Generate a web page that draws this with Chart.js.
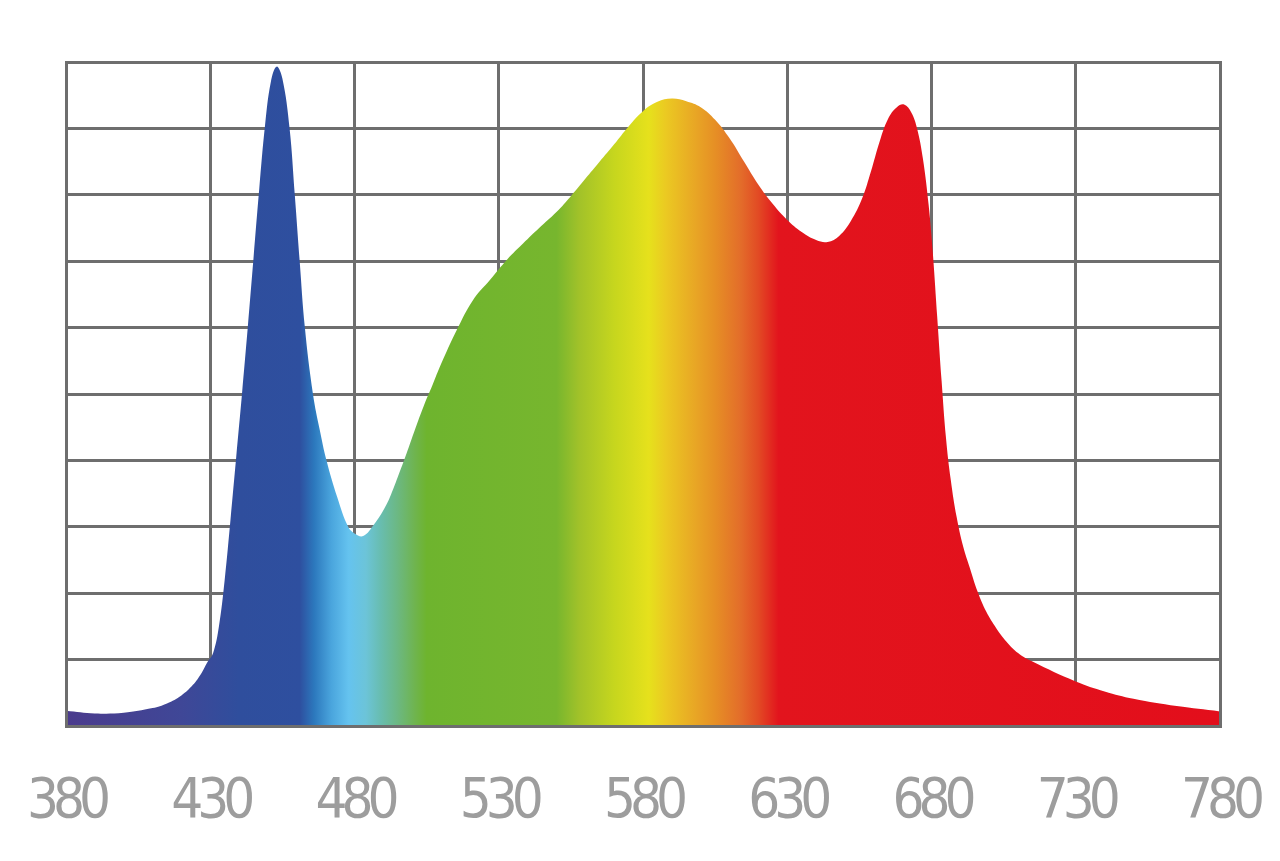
<!DOCTYPE html>
<html>
<head>
<meta charset="utf-8">
<script src="https://cdn.jsdelivr.net/npm/chart.js@4"></script>
<style>
  html, body { margin: 0; padding: 0; background: #ffffff; }
  #wrap { width: 1280px; height: 861px; }
</style>
</head>
<body>
<div id="wrap"><canvas id="spectrum"></canvas></div>
<script>
// wavelength (nm) and relative intensity
const wavelengths = [380, 390, 400, 410, 415, 420, 424, 427, 429, 431, 433, 435, 437, 439, 441, 443, 445, 447, 449, 451, 453, 455, 457.5, 459.3, 461, 462.8, 465.6, 468, 470.3, 474, 477.8, 480, 483, 487, 490, 492.3, 495, 498, 501, 504, 507, 510, 515.4, 521, 527, 533, 538.5, 544, 550, 555, 560, 565, 570, 575, 580, 585, 590, 595, 600, 605, 610, 615, 620, 625, 630, 635, 640, 644, 648, 652, 656, 659, 662, 665, 668, 670.5, 673, 675, 677, 679, 680.5, 682, 683.5, 685, 686.7, 688.7, 691, 693.3, 696, 699, 702.5, 706, 710, 715, 730, 740, 750, 765, 780];
const intensity = [0.23, 0.19, 0.2, 0.27, 0.34, 0.46, 0.62, 0.8, 0.96, 1.1, 1.5, 2.2, 3.1, 4.05, 5.0, 6.0, 7.05, 8.1, 9.05, 9.7, 9.93, 9.75, 9.0, 8.0, 7.0, 6.0, 5.0, 4.45, 4.0, 3.45, 3.0, 2.9, 2.86, 3.05, 3.25, 3.45, 3.75, 4.1, 4.47, 4.82, 5.13, 5.45, 5.96, 6.41, 6.72, 7.03, 7.27, 7.5, 7.74, 7.98, 8.24, 8.5, 8.76, 9.03, 9.26, 9.4, 9.45, 9.41, 9.32, 9.13, 8.85, 8.5, 8.15, 7.86, 7.62, 7.44, 7.32, 7.29, 7.38, 7.6, 7.95, 8.35, 8.8, 9.15, 9.32, 9.36, 9.24, 9.0, 8.55, 7.85, 7.1, 6.15, 5.2, 4.35, 3.7, 3.15, 2.7, 2.38, 2.02, 1.72, 1.47, 1.27, 1.1, 0.97, 0.67, 0.52, 0.41, 0.3, 0.22];
const xTicks = [380, 430, 480, 530, 580, 630, 680, 730, 780];

// colour bands of the fill, by wavelength
const bandNm = [380, 420, 440, 461, 466, 472, 478, 484, 489, 495, 501, 505, 550, 558, 570, 582, 588, 599, 605, 614, 620, 627, 780];
const bandColor = ['#4b3b8d', '#3f4797', '#2f4e9d', '#2e4f9f', '#2c78bd', '#4aa5dd', '#65c3ef', '#6cc4d8', '#68bdb0', '#6cb882', '#6fb44e', '#6eb42e', '#77b62e', '#a2c229', '#c6d61e', '#e6e11c', '#ebc922', '#e8a325', '#e68f25', '#e36c2a', '#e24a24', '#e2141d', '#e30e1b'];

const gridColor = '#6e6e6e';
const points = wavelengths.map((w, i) => ({ x: w, y: intensity[i] }));

function spectrumFill(context) {
  const chart = context.chart;
  if (!chart.chartArea) return '#76b62e';
  const xs = chart.scales.x;
  const x0 = xs.getPixelForValue(380), x1 = xs.getPixelForValue(780);
  const g = chart.ctx.createLinearGradient(x0, 0, x1, 0);
  bandNm.forEach((nm, i) => g.addColorStop((nm - 380) / 400, bandColor[i]));
  return g;
}

// tighter digits for the wavelength labels
const narrowText = {
  id: 'narrowText',
  beforeDraw(chart) { chart.ctx.letterSpacing = '-6px'; }
};

const hiddenTicks = { display: false };
const noEdgePadding = (scale) => { scale.paddingLeft = 0; scale.paddingRight = 0; };

const ctx = document.getElementById('spectrum').getContext('2d');
new Chart(ctx, {
  type: 'line',
  data: {
    datasets: [{
      data: points,
      fill: 'origin',
      backgroundColor: spectrumFill,
      borderWidth: 0,
      pointRadius: 0,
      tension: 0.4
    }]
  },
  options: {
    responsive: true,
    maintainAspectRatio: false,
    animation: false,
    layout: { padding: { left: 66, right: 60, top: 62, bottom: 27 } },
    plugins: { legend: { display: false }, tooltip: { enabled: false } },
    scales: {
      x: {
        type: 'linear',
        min: 380,
        max: 780,
        afterBuildTicks: (scale) => { scale.ticks = xTicks.map(v => ({ value: v })); },
        afterFit: (scale) => { noEdgePadding(scale); scale.height = 108; },
        grid: { color: gridColor, lineWidth: 3, drawTicks: false },
        border: { display: true, color: gridColor, width: 3, z: 1 },
        ticks: {
          padding: 43,
          color: '#9d9d9d',
          font: { family: "'DejaVu Sans Condensed', 'Liberation Sans Narrow', sans-serif", size: 56 },
          maxRotation: 0,
          autoSkip: false
        }
      },
      y: {
        min: 0,
        max: 10,
        ticks: { display: false, stepSize: 1 },
        grid: { color: gridColor, lineWidth: 3, drawTicks: false },
        border: { display: true, color: gridColor, width: 3, z: 1 }
      },
      x2: {
        type: 'linear',
        position: 'top',
        min: 380,
        max: 780,
        ticks: hiddenTicks,
        afterFit: noEdgePadding,
        grid: { display: false, drawTicks: false },
        border: { display: true, color: gridColor, width: 3, z: 1 }
      },
      y2: {
        position: 'right',
        min: 0,
        max: 10,
        ticks: hiddenTicks,
        grid: { display: false, drawTicks: false },
        border: { display: true, color: gridColor, width: 3, z: 1 }
      }
    }
  },
  plugins: [narrowText]
});
</script>
</body>
</html>
